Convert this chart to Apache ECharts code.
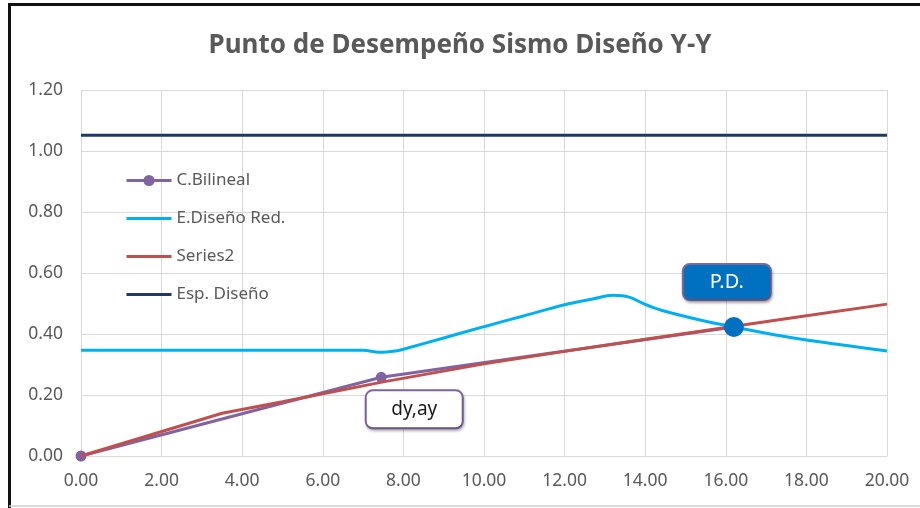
<!DOCTYPE html>
<html>
<head>
<meta charset="utf-8">
<script src="https://cdn.jsdelivr.net/npm/echarts@6/dist/echarts.min.js"></script>
<style>
  html, body { margin: 0; padding: 0; background: #ffffff; }
  #chart { width: 920px; height: 508px; }
</style>
</head>
<body>
<div id="chart"></div>
<script>
// Bilinear capacity curve (origin, yield point dy/ay, performance point)
const bilinealX = [0, 7.45, 16.2];
const bilinealY = [0, 0.258, 0.423];

// Reduced design spectrum
const espRedX = [0, 2, 4, 6, 7.0, 7.4, 7.8, 8.0, 9.0, 10.0, 11.0, 12.0, 12.7, 13.2, 13.6, 14.0, 14.4, 15.36, 16.2, 17.35, 18.0, 19.0, 20.0];
const espRedY = [0.347, 0.347, 0.347, 0.347, 0.347, 0.340, 0.344, 0.350, 0.387, 0.424, 0.460, 0.496, 0.515, 0.527, 0.521, 0.497, 0.478, 0.446, 0.423, 0.394, 0.380, 0.362, 0.344];

// Series2
const series2X = [0, 3.5, 5, 7.5, 10, 12, 14, 16, 18, 20];
const series2Y = [0, 0.140, 0.178, 0.243, 0.302, 0.343, 0.383, 0.421, 0.460, 0.498];

// Design spectrum level
const espDisenoX = [0, 20];
const espDisenoY = [1.052, 1.052];

// Performance point
const pdX = [16.2];
const pdY = [0.423];

const legendNames = ['C.Bilineal', 'E.Diseño Red.', 'Series2', 'Esp. Diseño'];

const pairs = (xs, ys) => xs.map((x, i) => [x, ys[i]]);

const FONT = '"Noto Sans", "Open Sans", sans-serif';
const GRID_COLOR = '#D9D9D9';
const TEXT_COLOR = '#595959';
// plain stroke icon for legend entries without markers
const LINE_ICON = 'path://M0,0 L45,0 L45,3 L0,3 Z';

const chart = echarts.init(document.getElementById('chart'), null, { renderer: 'canvas' });

const bilinealData = pairs(bilinealX, bilinealY).map((p, i) => {
  if (i === 1) {
    return {
      value: p,
      label: {
        show: true,
        formatter: 'dy,ay',
        position: 'inside',
        offset: [33, 32],
        width: 95,
        height: 36,
        lineHeight: 36,
        align: 'center',
        verticalAlign: 'middle',
        color: '#1a1a1a',
        fontFamily: FONT,
        fontSize: 19,
        backgroundColor: '#ffffff',
        borderColor: '#8064A2',
        borderWidth: 2,
        borderRadius: 6,
        shadowColor: 'rgba(0,0,0,0.25)',
        shadowBlur: 3,
        shadowOffsetX: 1,
        shadowOffsetY: 2
      }
    };
  }
  if (i === 2) {
    return { value: p, symbol: 'none' };
  }
  return { value: p };
});

const option = {
  animation: false,
  backgroundColor: '#ffffff',
  title: {
    text: 'Punto de Desempeño Sismo Diseño Y-Y',
    left: 'center',
    top: 28,
    textStyle: {
      fontFamily: FONT,
      fontWeight: 'bold',
      fontSize: 26,
      color: TEXT_COLOR
    }
  },
  legend: {
    data: [
      { name: legendNames[0] },
      { name: legendNames[1], icon: LINE_ICON },
      { name: legendNames[2], icon: LINE_ICON },
      { name: legendNames[3], icon: LINE_ICON }
    ],
    orient: 'vertical',
    left: 120,
    top: 167,
    itemWidth: 45,
    itemHeight: 14,
    itemGap: 21,
    lineStyle: { width: 3 },
    textStyle: { fontFamily: FONT, fontSize: 17, color: TEXT_COLOR }
  },
  grid: { left: 81, right: 33, top: 90, bottom: 52, containLabel: false },
  xAxis: {
    type: 'value',
    min: 0,
    max: 20,
    interval: 2,
    axisLine: { show: true, lineStyle: { color: GRID_COLOR } },
    axisTick: { show: false },
    splitLine: { show: true, lineStyle: { color: GRID_COLOR, width: 1 } },
    axisLabel: {
      formatter: v => v.toFixed(2),
      fontFamily: FONT,
      fontSize: 17.5,
      color: TEXT_COLOR,
      margin: 16
    }
  },
  yAxis: {
    type: 'value',
    min: 0,
    max: 1.2,
    interval: 0.2,
    axisLine: { show: false },
    axisTick: { show: false },
    splitLine: { show: true, lineStyle: { color: GRID_COLOR, width: 1 } },
    axisLabel: {
      formatter: v => v.toFixed(2),
      fontFamily: FONT,
      fontSize: 17.5,
      color: TEXT_COLOR,
      margin: 18
    }
  },
  series: [
    {
      name: 'C.Bilineal',
      type: 'line',
      z: 2,
      data: bilinealData,
      symbol: 'circle',
      symbolSize: 11,
      showAllSymbol: true,
      lineStyle: { color: '#8064A2', width: 3 },
      itemStyle: { color: '#8064A2' }
    },
    {
      name: 'E.Diseño Red.',
      type: 'line',
      z: 3,
      data: pairs(espRedX, espRedY),
      symbol: 'none',
      smooth: 0.35,
      lineStyle: { color: '#00B0F0', width: 3 },
      itemStyle: { color: '#00B0F0' }
    },
    {
      name: 'Series2',
      type: 'line',
      z: 4,
      data: pairs(series2X, series2Y),
      symbol: 'none',
      smooth: false,
      lineStyle: { color: '#C0504D', width: 3 },
      itemStyle: { color: '#C0504D' }
    },
    {
      name: 'Esp. Diseño',
      type: 'line',
      z: 5,
      data: pairs(espDisenoX, espDisenoY),
      symbol: 'none',
      lineStyle: { color: '#203864', width: 3 },
      itemStyle: { color: '#203864' }
    },
    {
      name: 'P.D.',
      type: 'scatter',
      z: 6,
      data: pairs(pdX, pdY),
      symbol: 'circle',
      symbolSize: 20,
      itemStyle: { color: '#0070C0', opacity: 1 },
      label: {
        show: true,
        formatter: 'P.D.',
        position: 'inside',
        offset: [-7, -45],
        width: 86,
        height: 34,
        lineHeight: 34,
        align: 'center',
        verticalAlign: 'middle',
        color: '#ffffff',
        fontFamily: FONT,
        fontSize: 20,
        backgroundColor: '#0070C0',
        borderColor: '#7F6A9F',
        borderWidth: 2,
        borderRadius: 6,
        shadowColor: 'rgba(0,0,0,0.3)',
        shadowBlur: 3,
        shadowOffsetX: 1,
        shadowOffsetY: 2
      }
    }
  ],
  graphic: [
    { type: 'line', shape: { x1: 8, y1: 4.5, x2: 920, y2: 4.5 }, style: { stroke: '#111111', lineWidth: 3 }, z: 100 },
    { type: 'line', shape: { x1: 9.5, y1: 3, x2: 9.5, y2: 508 }, style: { stroke: '#111111', lineWidth: 3 }, z: 100 },
    { type: 'line', shape: { x1: 9, y1: 506, x2: 920, y2: 506 }, style: { stroke: '#D0D0D0', lineWidth: 1.5 }, z: 100 }
  ]
};

chart.setOption(option);
</script>
</body>
</html>
